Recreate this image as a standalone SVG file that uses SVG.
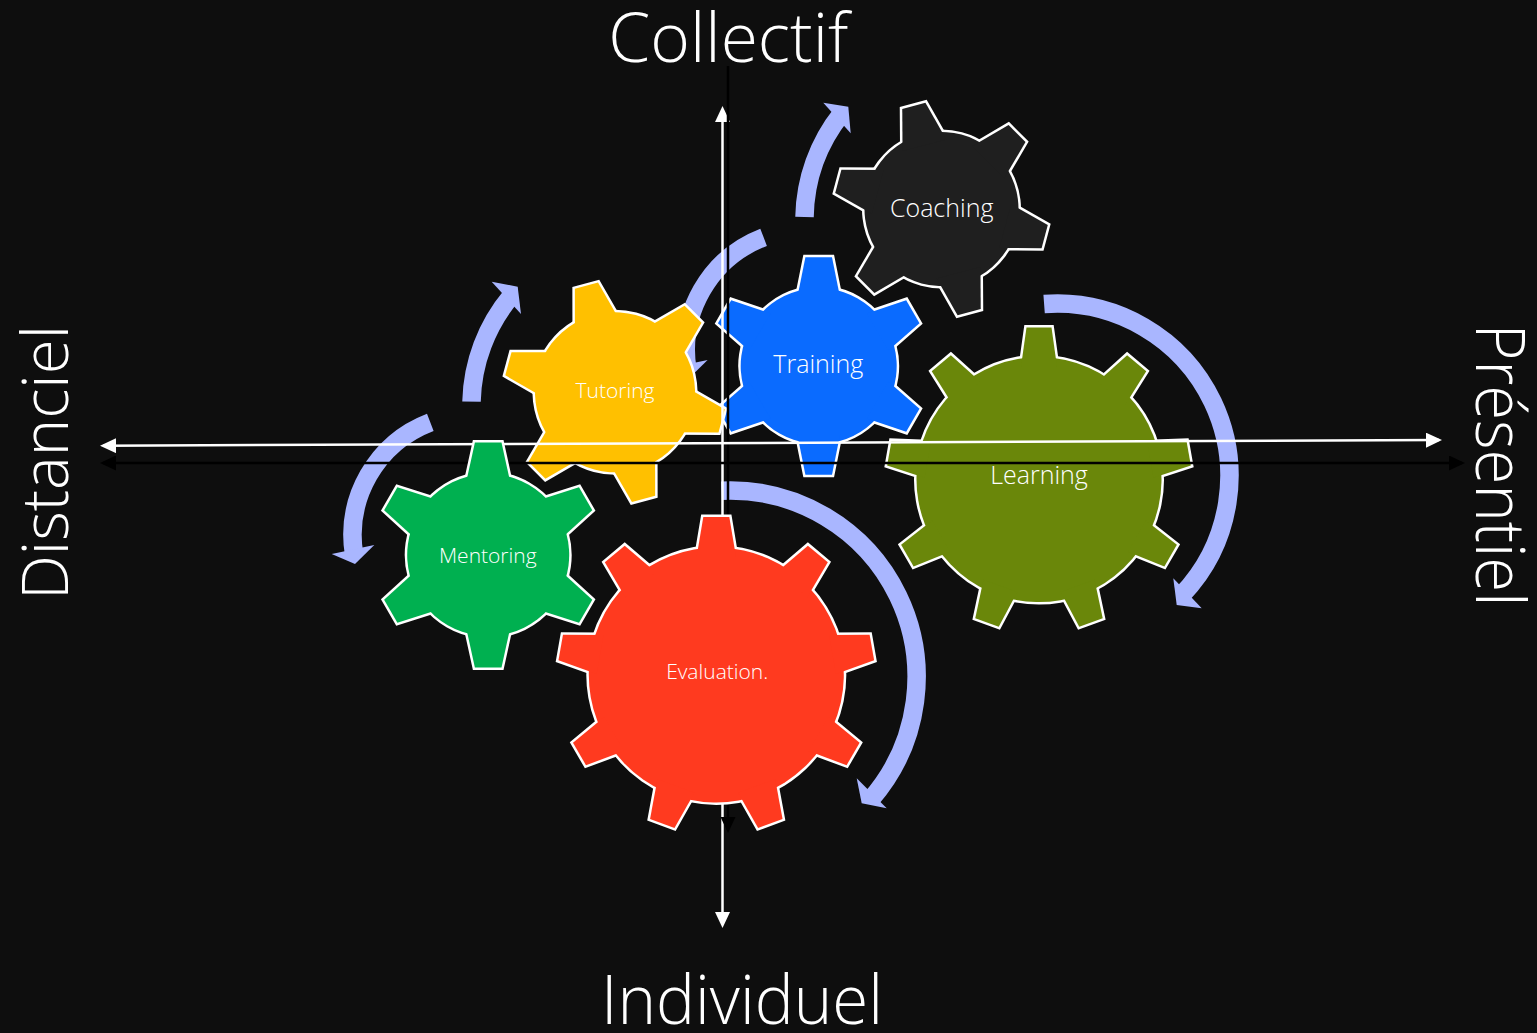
<svg xmlns="http://www.w3.org/2000/svg" xmlns:xlink="http://www.w3.org/1999/xlink" width="1537" height="1033" viewBox="0 0 1537 1033">
<style>
.edge{fill:#fff;stroke:#fff;stroke-width:5;stroke-linejoin:miter}
.band{fill:none;stroke:#A9B6FF;stroke-width:18.5;stroke-linecap:butt}
.head{fill:#A9B6FF}
.wl{stroke:#fff;stroke-width:2.5;fill:none}
.bl{stroke:#000;stroke-width:2.5;fill:none}
.lab{font-family:"Open Sans","Noto Sans","Liberation Sans",sans-serif;font-weight:300;fill:#fff;text-anchor:middle}
.ax{font-family:"Open Sans","Noto Sans","Liberation Sans",sans-serif;font-weight:300;fill:#fff;text-anchor:middle}
</style>
<defs>
<marker id="mw" viewBox="0 0 16 15" refX="13" refY="7.5" markerWidth="16" markerHeight="15" markerUnits="userSpaceOnUse" orient="auto-start-reverse"><path d="M0,0 L16,7.5 L0,15 z" fill="#fff"/></marker>
<marker id="mb" viewBox="0 0 16 15" refX="13" refY="7.5" markerWidth="16" markerHeight="15" markerUnits="userSpaceOnUse" orient="auto-start-reverse"><path d="M0,0 L16,7.5 L0,15 z" fill="#000"/></marker>
<polygon id="tC" points="66,-22.64 106.83,-12 106.83,12 66,22.64"/>
<polygon id="tU" points="69,-22.99 110.35,-12 110.35,12 69,22.99"/>
<polygon id="tT" points="68,-21.49 108.69,-13.3 108.69,13.3 68,21.49"/>
<polygon id="tM" points="70,-22.61 112.52,-13.3 112.52,13.3 70,22.61"/>
<polygon id="tE" points="118,-19.72 157.97,-13 157.97,13 118,19.72"/>
<polygon id="tL" points="113,-17.97 151.99,-12.5 151.99,12.5 113,17.97"/>
<g id="sC"><circle r="77"/><use href="#tC"/><use href="#tC" transform="rotate(60)"/><use href="#tC" transform="rotate(120)"/><use href="#tC" transform="rotate(180)"/><use href="#tC" transform="rotate(240)"/><use href="#tC" transform="rotate(300)"/></g>
<g id="sU"><circle r="80"/><use href="#tU"/><use href="#tU" transform="rotate(60)"/><use href="#tU" transform="rotate(120)"/><use href="#tU" transform="rotate(180)"/><use href="#tU" transform="rotate(240)"/><use href="#tU" transform="rotate(300)"/></g>
<g id="sT"><circle r="78"/><use href="#tT"/><use href="#tT" transform="rotate(60)"/><use href="#tT" transform="rotate(120)"/><use href="#tT" transform="rotate(180)"/><use href="#tT" transform="rotate(240)"/><use href="#tT" transform="rotate(300)"/></g>
<g id="sM"><circle r="81"/><use href="#tM"/><use href="#tM" transform="rotate(60)"/><use href="#tM" transform="rotate(120)"/><use href="#tM" transform="rotate(180)"/><use href="#tM" transform="rotate(240)"/><use href="#tM" transform="rotate(300)"/></g>
<g id="sE"><circle r="127.5"/><use href="#tE"/><use href="#tE" transform="rotate(40)"/><use href="#tE" transform="rotate(80)"/><use href="#tE" transform="rotate(120)"/><use href="#tE" transform="rotate(160)"/><use href="#tE" transform="rotate(200)"/><use href="#tE" transform="rotate(240)"/><use href="#tE" transform="rotate(280)"/><use href="#tE" transform="rotate(320)"/></g>
<g id="sL"><circle r="122.5"/><use href="#tL"/><use href="#tL" transform="rotate(40)"/><use href="#tL" transform="rotate(80)"/><use href="#tL" transform="rotate(120)"/><use href="#tL" transform="rotate(160)"/><use href="#tL" transform="rotate(200)"/><use href="#tL" transform="rotate(240)"/><use href="#tL" transform="rotate(280)"/><use href="#tL" transform="rotate(320)"/></g>
</defs>

<rect width="1537" height="1033" fill="#0e0e0e"/>

<g id="cycle-arrows">
<path class="band" d="M804.5,217 A171,171 0 0 1 841.7,113.6"/>
<polygon class="head" points="823.3,102.7 848.3,106.7 850.7,133.3"/>
<path class="band" d="M471.5,401.6 A171,171 0 0 1 511.5,295.6"/>
<polygon class="head" points="491.7,281.7 517.7,286.7 521,314"/>
<path class="band" d="M430.3,422.3 A121,121 0 0 0 354.2,555.3"/>
<polygon class="head" points="331.7,554 355,564 374.3,545"/>
<path class="band" d="M763.6,237.3 A121,121 0 0 0 687.5,370.3"/>
<polygon class="head" points="665,369 688.3,379 707.6,360"/>
<path class="band" d="M1044.1,304 A172.5,172.5 0 0 1 1182.1,594.7"/>
<polygon class="head" points="1173.3,578.3 1176.7,605 1201.7,608.3"/>
<path class="band" d="M721.5,490.7 A186.5,186.5 0 0 1 870.8,799.4"/>
<polygon class="head" points="856.7,778.3 861.7,803.3 886.7,808.3"/>
</g>

<g id="coaching">
<use href="#sC" class="edge" transform="translate(941.5,209) rotate(15)"/>
<use href="#sC" fill="#1f1f1f" transform="translate(941.5,209) rotate(15)"/>
<text class="lab" x="941.7" y="216.7" font-size="25">Coaching</text>
</g>

<g id="training">
<use href="#sT" class="edge" transform="translate(818.7,366) rotate(30)"/>
<use href="#sT" fill="#0A6BFF" transform="translate(818.7,366) rotate(30)"/>
<text class="lab" x="818.3" y="373.3" font-size="25">Training</text>
</g>

<g id="tutoring">
<use href="#sU" class="edge" transform="translate(615,392.3) rotate(15)"/>
<use href="#sU" fill="#FFC000" transform="translate(615,392.3) rotate(15)"/>
<text class="lab" x="615" y="398.3" font-size="21">Tutoring</text>
</g>

<g id="learning">
<use href="#sL" class="edge" transform="translate(1039,479.6) rotate(-10)"/>
<use href="#sL" fill="#6A870A" transform="translate(1039,479.6) rotate(-10)"/>
<text class="lab" x="1039" y="484" font-size="25">Learning</text>
</g>

<g id="axes">
<line class="wl" x1="722.5" y1="109" x2="722.5" y2="925" marker-start="url(#mw)" marker-end="url(#mw)"/>
<line class="bl" x1="728" y1="66" x2="728" y2="830" marker-end="url(#mb)"/>
<line class="wl" x1="103" y1="445.7" x2="1439" y2="440.1" marker-start="url(#mw)" marker-end="url(#mw)"/>
<line class="bl" x1="103" y1="463" x2="1462" y2="463" marker-start="url(#mb)" marker-end="url(#mb)"/>
</g>

<g id="evaluation">
<use href="#sE" class="edge" transform="translate(716.3,675) rotate(-10)"/>
<use href="#sE" fill="#FF3A1F" transform="translate(716.3,675) rotate(-10)"/>
<text class="lab" x="717.2" y="679.3" font-size="21">Evaluation.</text>
</g>

<g id="mentoring">
<use href="#sM" class="edge" transform="translate(488.2,555) rotate(30)"/>
<use href="#sM" fill="#00B050" transform="translate(488.2,555) rotate(30)"/>
<text class="lab" x="487.8" y="563.3" font-size="21">Mentoring</text>
</g>

<g id="axis-labels">
<text class="ax" x="728.3" y="62" font-size="68" textLength="240" lengthAdjust="spacingAndGlyphs">Collectif</text>
<text class="ax" x="742" y="1024" font-size="68" textLength="282" lengthAdjust="spacingAndGlyphs">Individuel</text>
<text class="ax" transform="translate(68.3,462.5) rotate(-90)" font-size="65" textLength="275" lengthAdjust="spacingAndGlyphs">Distanciel</text>
<text class="ax" transform="translate(1476,465) rotate(90)" font-size="68" textLength="283" lengthAdjust="spacingAndGlyphs">Présentiel</text>
</g>
</svg>
